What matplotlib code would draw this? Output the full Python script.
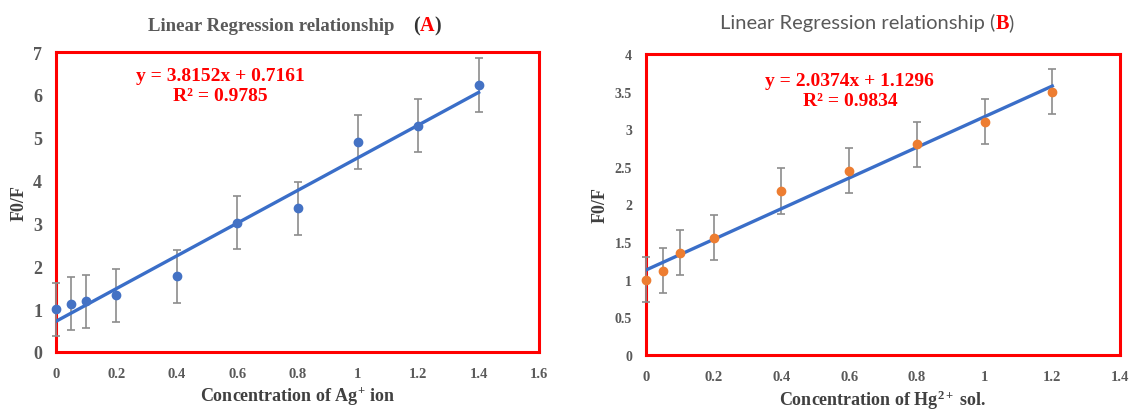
import matplotlib
matplotlib.use('Agg')
import matplotlib.pyplot as plt
import numpy as np

plt.rcParams['mathtext.fontset'] = 'custom'
plt.rcParams['mathtext.rm'] = 'Liberation Serif:bold'
plt.rcParams['mathtext.bf'] = 'Liberation Serif:bold'
plt.rcParams['mathtext.it'] = 'Liberation Serif:bold'

# Panel A data (Ag+)
conc_a = [0, 0.05, 0.1, 0.2, 0.4, 0.6, 0.8, 1.0, 1.2, 1.4]
ratio_a = [1.0, 1.13, 1.18, 1.32, 1.77, 3.02, 3.35, 4.9, 5.28, 6.23]
err_a = [0.62, 0.62, 0.62, 0.62, 0.62, 0.62, 0.62, 0.62, 0.62, 0.62]
slope_a, icpt_a, r2_a = 3.8152, 0.7161, 0.9785

# Panel B data (Hg2+)
conc_b = [0, 0.05, 0.1, 0.2, 0.4, 0.6, 0.8, 1.0, 1.2]
ratio_b = [1.0, 1.12, 1.36, 1.56, 2.18, 2.45, 2.8, 3.1, 3.5]
err_b = [0.3, 0.3, 0.3, 0.3, 0.3, 0.3, 0.3, 0.3, 0.3]
slope_b, icpt_b, r2_b = 2.0374, 1.1296, 0.9834

xticks_a = [0, 0.2, 0.4, 0.6, 0.8, 1, 1.2, 1.4, 1.6]
yticks_a = [0, 1, 2, 3, 4, 5, 6, 7]
xticks_b = [0, 0.2, 0.4, 0.6, 0.8, 1, 1.2, 1.4]
yticks_b = [0, 0.5, 1, 1.5, 2, 2.5, 3, 3.5, 4]

GRAY = '#595959'
RED = '#ff0000'
LINE = '#3a6ec8'
SERIF = 'Liberation Serif'

fig = plt.figure(figsize=(11.3, 4.1), dpi=100)
ax1 = fig.add_axes([56 / 1130, 57 / 410, 483 / 1130, 300 / 410])
ax2 = fig.add_axes([646 / 1130, 54 / 410, 474 / 1130, 301 / 410])


def panel(ax, x, y, e, slope, icpt, r2, color, xt, yt, xmax, ymax,
          ysize, xsize, xlabel, eq_pos):
    ax.errorbar(x, y, yerr=e, fmt='none', ecolor='#8c8c8c', elinewidth=1.2,
                capsize=3, capthick=1.2, zorder=2, clip_on=False)
    xf = np.array([0, max(x)])
    ax.plot(xf, slope * xf + icpt, color=LINE, lw=2.4, zorder=3)
    ax.plot(x, y, 'o', color=color, ms=6, zorder=4, clip_on=False)
    ax.set_xlim(0, xmax)
    ax.set_ylim(0, ymax)
    ax.set_xticks(xt)
    ax.set_yticks(yt)
    ax.set_xticklabels(['%g' % v for v in xt])
    ax.set_yticklabels(['%g' % v for v in yt])
    ax.tick_params(length=0)
    ax.tick_params(axis='y', pad=10, labelsize=ysize, labelcolor=GRAY)
    ax.tick_params(axis='x', pad=11, labelsize=xsize, labelcolor=GRAY)
    for lab in ax.get_xticklabels() + ax.get_yticklabels():
        lab.set_fontfamily(SERIF)
        lab.set_fontweight('bold')
    for sp in ax.spines.values():
        sp.set_color(RED)
        sp.set_linewidth(2.2)
        sp.set_zorder(1)
    ax.set_ylabel('F0/F', fontfamily=SERIF, fontweight='bold', fontsize=13,
                  color='#404040')
    ax.set_xlabel(xlabel, fontfamily=SERIF, fontweight='bold', fontsize=13,
                  color='#404040', labelpad=3)
    ax.text(eq_pos[0], eq_pos[1], 'y = %.4fx + %.4f\nR² = %.4f' % (slope, icpt, r2),
            transform=ax.transAxes, ha='center', va='top', color=RED,
            fontfamily=SERIF, fontweight='bold', fontsize=14, linespacing=1.2)


panel(ax1, conc_a, ratio_a, err_a, slope_a, icpt_a, r2_a, '#4472c4',
      xticks_a, yticks_a, 1.6, 7, 13, 10.5,
      'Concentration of Ag$^{+}$ ion', (0.34, 0.95))
panel(ax2, conc_b, ratio_b, err_b, slope_b, icpt_b, r2_b, '#ed7d31',
      xticks_b, yticks_b, 1.4, 4, 10, 10.5,
      'Concentration of Hg$^{2+}$ sol.', (0.43, 0.94))
ax1.yaxis.set_label_coords(-0.058, 0.5)
ax2.yaxis.set_label_coords(-0.078, 0.5)


def title_pieces(x0, y0, pieces):
    # place coloured pieces one after another, left to right
    renderer = fig.canvas.get_renderer()
    x = x0
    for txt, kw in pieces:
        t = fig.text(x / 1130, 1 - y0 / 410, txt, ha='left', va='baseline', **kw)
        bb = t.get_window_extent(renderer)
        x = bb.x1


serif_gray = dict(fontfamily=SERIF, fontweight='bold', fontsize=13.5, color=GRAY)
serif_dark = dict(fontfamily=SERIF, fontweight='bold', fontsize=14.5, color='#333333')
serif_red = dict(fontfamily=SERIF, fontweight='bold', fontsize=14.5, color=RED)
sans_gray = dict(fontfamily='Lato', fontsize=14.5, color=GRAY)

title_pieces(148, 31, [('Linear Regression relationship', serif_gray),
                       ('    ', serif_gray),
                       ('(', serif_dark), ('A', serif_red), (')', serif_dark)])
title_pieces(720, 29, [('Linear Regression relationship (', sans_gray),
                       ('B', serif_red), (')', sans_gray)])

fig.savefig('out.png', dpi=100)
